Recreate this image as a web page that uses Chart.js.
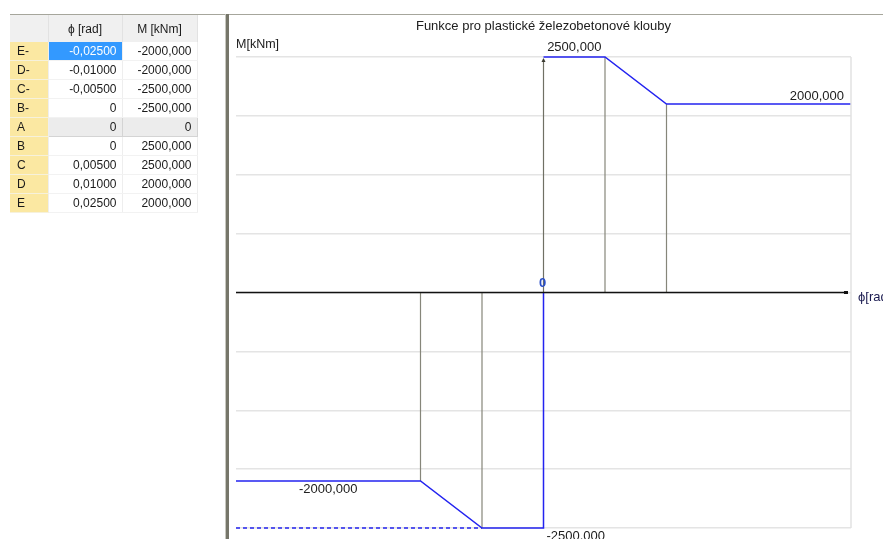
<!DOCTYPE html>
<html lang="cs">
<head>
<meta charset="utf-8">
<title>Funkce pro plastické železobetonové klouby</title>
<script src="https://cdn.jsdelivr.net/npm/chart.js@4.4.1/dist/chart.umd.min.js"></script>
<style>
  html, body { margin: 0; padding: 0; background: #ffffff; }
  body { width: 883px; height: 539px; position: relative; overflow: hidden;
         font-family: "Liberation Sans", Arial, sans-serif; }
  #plot { position: absolute; left: 0; top: 0; }
  #topline { position: absolute; left: 10px; top: 14px; width: 873px; height: 1px; background: #a6a69c; }
  #divider { position: absolute; left: 225px; top: 14px; width: 4px; height: 525px;
             background: #76766a; border-left: 1px solid #c8c8c0; box-sizing: border-box; }
  table { position: absolute; left: 10px; top: 15px; border-collapse: collapse;
          font-size: 12px; color: #1a1a1a; table-layout: fixed; }
  th { background: #f0f0f0; font-weight: normal; height: 27px; padding: 0;
       border-right: 1px solid #e2e2e2; text-align: center; }
  td { height: 18px; padding: 0 5px 0 0; text-align: right; border-bottom: 1px solid #f2f2f2;
       border-right: 1px solid #eeeeee; white-space: nowrap; }
  td.rh { background: #fbe8a2; text-align: left; padding: 0 0 0 7px; border-bottom: 1px solid #f6f1dc; }
  td.sel { background: #3399ff; color: #ffffff; }
  tr.origin td.v { background: #ececec; border-bottom: 1px solid #d4d4d4; border-right: 1px solid #d4d4d4; }
</style>
</head>
<body>
<canvas id="plot" width="883" height="539"></canvas>
<div id="topline"></div>
<div id="divider"></div>
<table id="tab">
  <colgroup><col style="width:38px"><col style="width:74px"><col style="width:75px"></colgroup>
  <thead><tr><th></th><th>ϕ [rad]</th><th>M [kNm]</th></tr></thead>
  <tbody></tbody>
</table>
<script>
// Points of the plastic hinge curve
const pointNames = ['E-', 'D-', 'C-', 'B-', 'A', 'B', 'C', 'D', 'E'];
const rotationRad = [-0.025, -0.01, -0.005, 0, 0, 0, 0.005, 0.01, 0.025];
const momentKNm = [-2000, -2000, -2500, -2500, 0, 2500, 2500, 2000, 2000];

// Axis ranges
const rotationRange = [-0.025, 0.025];
const momentRange = [-2500, 2500];
const momentGridStep = 625;

const titleText = 'Funkce pro plastické železobetonové klouby';
const momentAxisLabel = 'M[kNm]';
const rotationAxisLabel = 'ϕ[rad]';

// Czech number format (decimal comma)
function fmt(v, dec) {
  if (v === 0) return '0';
  return v.toFixed(dec).replace('.', ',');
}

// Table of points
const tbody = document.querySelector('#tab tbody');
pointNames.forEach((name, i) => {
  const tr = document.createElement('tr');
  if (name === 'A') tr.className = 'origin';
  tr.innerHTML = '<td class="rh">' + name + '</td>' +
    '<td class="v' + (i === 0 ? ' sel' : '') + '">' + fmt(rotationRad[i], 5) + '</td>' +
    '<td class="v">' + fmt(momentKNm[i], 3) + '</td>';
  tbody.appendChild(tr);
});

// Curve through all points
const curve = rotationRad.map((x, i) => ({ x: x, y: momentKNm[i] }));

// Lower plateau extended to the left edge (dashed)
const minMoment = Math.min(...momentKNm);
const firstMinIdx = momentKNm.indexOf(minMoment);
const plateauExt = [
  { x: rotationRange[0], y: minMoment },
  { x: rotationRad[firstMinIdx], y: minMoment }
];

// Vertical drop lines from interior points to the rotation axis
const dropSets = [];
rotationRad.forEach((x, i) => {
  if (x !== 0 && x > rotationRange[0] && x < rotationRange[1]) {
    dropSets.push({
      data: [{ x: x, y: 0 }, { x: x, y: momentKNm[i] }],
      showLine: true, borderColor: '#86867a', borderWidth: 1.2, pointRadius: 0, clip: false
    });
  }
});

const BLUE = '#2323f0';
const AXIS_GREY = '#707064';
const FONT = '"Liberation Sans", Arial, sans-serif';

// the rising part on the moment axis is shown in the axis colour
function segmentColour(ctx) {
  const a = ctx.p0.parsed, b = ctx.p1.parsed;
  if (a.x === 0 && b.x === 0 && a.y >= 0 && b.y > a.y) return 'rgba(0,0,0,0)';
  return undefined;
}

const decorations = {
  id: 'decorations',
  afterDatasetsDraw(chart) {
    const ctx = chart.ctx;
    const xs = chart.scales.x, ys = chart.scales.y;
    const area = chart.chartArea;
    const px = v => xs.getPixelForValue(v);
    const py = v => ys.getPixelForValue(v);
    const x0 = px(0), y0 = py(0);
    ctx.save();

    // right frame line of the plot
    ctx.strokeStyle = '#e2e2e2';
    ctx.lineWidth = 1.5;
    ctx.beginPath();
    ctx.moveTo(area.right, area.top);
    ctx.lineTo(area.right, area.bottom);
    ctx.stroke();

    // moment axis (upward part) with arrow
    ctx.strokeStyle = AXIS_GREY;
    ctx.lineWidth = 1.2;
    ctx.beginPath();
    ctx.moveTo(x0, y0);
    ctx.lineTo(x0, area.top + 2);
    ctx.stroke();
    ctx.fillStyle = '#3a3a30';
    ctx.beginPath();
    ctx.moveTo(x0, area.top + 1);
    ctx.lineTo(x0 - 2, area.top + 5);
    ctx.lineTo(x0 + 2, area.top + 5);
    ctx.closePath();
    ctx.fill();

    // rotation axis with arrow end
    ctx.strokeStyle = '#111111';
    ctx.lineWidth = 1.6;
    ctx.beginPath();
    ctx.moveTo(area.left, y0);
    ctx.lineTo(area.right - 4, y0);
    ctx.stroke();
    ctx.fillStyle = '#111111';
    ctx.fillRect(area.right - 7, y0 - 1.5, 4, 3);

    // texts
    ctx.fillStyle = '#202020';
    ctx.font = '13px ' + FONT;
    ctx.textBaseline = 'middle';
    ctx.textAlign = 'center';
    ctx.fillText(titleText, x0, 26);
    ctx.textAlign = 'left';
    ctx.font = '12.5px ' + FONT;
    ctx.fillText(momentAxisLabel, area.left, 45);
    ctx.fillStyle = '#1a1a50';
    ctx.font = '13px ' + FONT;
    ctx.fillText(rotationAxisLabel, area.right + 7, y0 + 5);

    // origin label
    ctx.fillStyle = '#2a4fc8';
    ctx.font = 'bold 13px ' + FONT;
    ctx.textAlign = 'center';
    ctx.fillText('0', x0 - 1, y0 - 9);

    // value labels
    ctx.fillStyle = '#202020';
    ctx.font = '13px ' + FONT;
    const iB = pointNames.indexOf('B'), iC = pointNames.indexOf('C');
    const iE = pointNames.indexOf('E'), iEm = pointNames.indexOf('E-');
    const iDm = pointNames.indexOf('D-'), iBm = pointNames.indexOf('B-');
    ctx.textAlign = 'center';
    ctx.fillText(fmt(momentKNm[iB], 3), (px(rotationRad[iB]) + px(rotationRad[iC])) / 2, py(momentKNm[iB]) - 10);
    ctx.textAlign = 'right';
    ctx.fillText(fmt(momentKNm[iE], 3), px(rotationRad[iE]) - 7, py(momentKNm[iE]) - 8);
    ctx.textAlign = 'center';
    ctx.fillText(fmt(momentKNm[iEm], 3), (px(rotationRad[iEm]) + px(rotationRad[iDm])) / 2, py(momentKNm[iEm]) + 9);
    ctx.textAlign = 'left';
    ctx.fillText(fmt(momentKNm[iBm], 3), px(rotationRad[iBm]) + 3, py(momentKNm[iBm]) + 8);

    ctx.restore();
  }
};

new Chart(document.getElementById('plot'), {
  type: 'scatter',
  data: {
    datasets: [
      { data: curve, showLine: true, borderColor: BLUE, borderWidth: 1.5, pointRadius: 0, clip: false,
        segment: { borderColor: segmentColour } },
      { data: plateauExt, showLine: true, borderColor: BLUE, borderWidth: 1.5, borderDash: [4, 3],
        pointRadius: 0, clip: false },
      ...dropSets
    ]
  },
  options: {
    responsive: false,
    animation: false,
    devicePixelRatio: 1,
    layout: { padding: { left: 236, right: 32, top: 57, bottom: 11 } },
    plugins: { legend: { display: false }, tooltip: { enabled: false }, title: { display: false } },
    scales: {
      x: {
        type: 'linear', min: rotationRange[0], max: rotationRange[1],
        ticks: { display: false }, grid: { display: false }, border: { display: false },
        afterFit(s) { s.height = 0; }
      },
      y: {
        type: 'linear', min: momentRange[0], max: momentRange[1],
        ticks: { display: false, stepSize: momentGridStep },
        grid: { color: '#e4e4e4', lineWidth: 1.5, drawTicks: false },
        border: { display: false },
        afterFit(s) { s.width = 0; }
      }
    }
  },
  plugins: [decorations]
});
</script>
</body>
</html>
